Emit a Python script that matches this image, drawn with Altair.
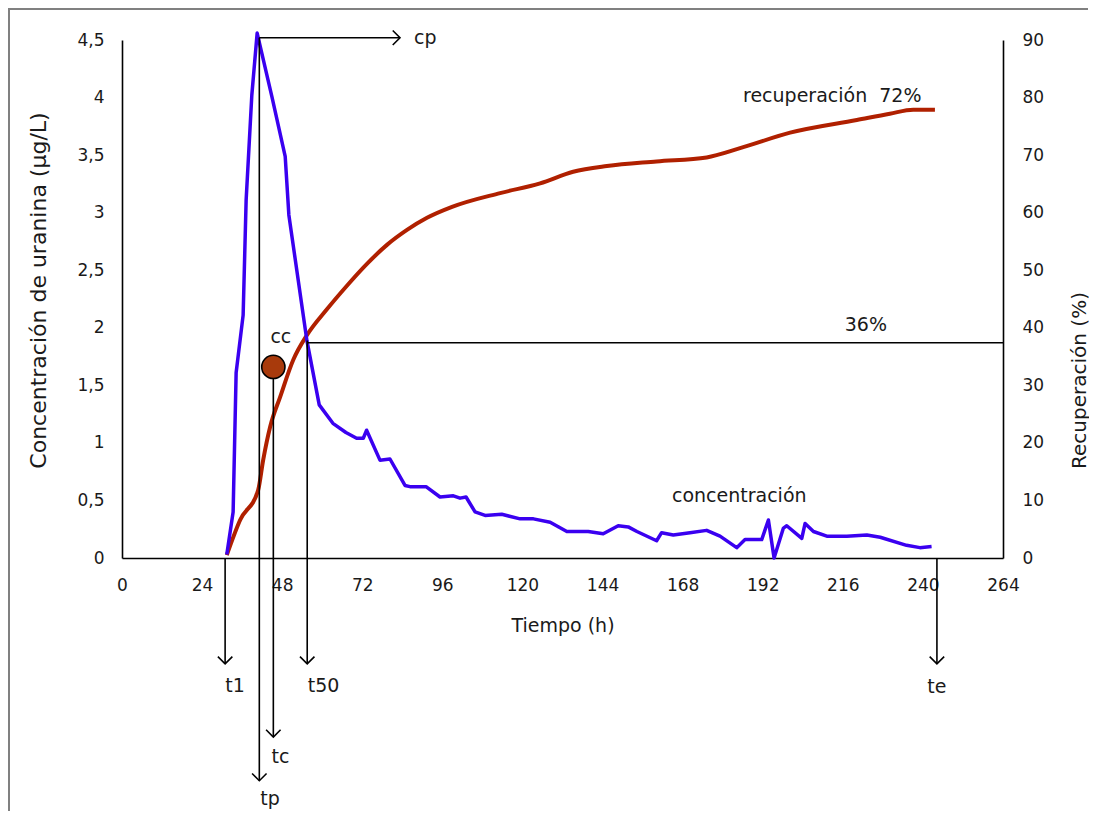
import altair as alt
import pandas as pd

# ---- data ----
conc_t = [31.4, 33.3, 34.2, 36.3, 37.2, 38.9, 40.5, 44.9, 48.9, 50.0, 55.4, 59.1, 63.2, 67.1, 70.3,
          72.3, 73.3, 77.3, 80.3, 84.8, 86.3, 91.1, 95.3, 99.3, 101.3, 103.1, 105.8, 108.8, 113.8,
          119.3, 123.3, 128.3, 133.3, 139.7, 144.2, 148.7, 151.7, 154.3, 160.2, 161.7, 165.2, 170.2,
          175.2, 179.2, 184.2, 186.7, 191.7, 193.7, 195.4, 198.2, 199.2, 203.7, 204.7, 207.2, 211.2,
          217.2, 223.2, 227.2, 235.1, 239.1, 242.6]
conc_v = [0.03, 0.40, 1.61, 2.11, 3.11, 4.02, 4.56, 4.01, 3.49, 2.98, 1.89, 1.33, 1.17, 1.09, 1.04,
          1.04, 1.11, 0.85, 0.86, 0.63, 0.62, 0.62, 0.53, 0.54, 0.52, 0.53, 0.40, 0.37, 0.38,
          0.34, 0.34, 0.31, 0.23, 0.23, 0.21, 0.28, 0.27, 0.23, 0.15, 0.22, 0.20, 0.22,
          0.24, 0.19, 0.09, 0.16, 0.16, 0.33, 0.00, 0.26, 0.28, 0.17, 0.30, 0.23, 0.19,
          0.19, 0.20, 0.18, 0.11, 0.09, 0.10]

rec_t = [31.4, 35.4, 40.8, 42.3, 44.4, 47.4, 51.3, 55.4, 61.4, 67.4, 73.4, 79.4, 85.4, 91.4, 98.9,
         113.3, 125.3, 135.2, 145.3, 160.2, 175.2, 185.2, 200.2, 220.2, 230.1, 237.1, 243.6]
rec_v = [0.5, 6.6, 11.8, 17.0, 22.8, 28.0, 34.4, 38.7, 43.2, 47.3, 51.1, 54.4, 57.0, 59.1, 61.0,
         63.4, 65.1, 67.1, 68.1, 68.9, 69.6, 71.2, 73.9, 76.1, 77.2, 77.9, 77.9]

x_ticks = [0, 24, 48, 72, 96, 120, 144, 168, 192, 216, 240, 264]
yl_ticks = [0, 0.5, 1, 1.5, 2, 2.5, 3, 3.5, 4, 4.5]
yr_ticks = [0, 10, 20, 30, 40, 50, 60, 70, 80, 90]

# annotation markers (time h, concentration units)
vline_name = ["t1", "tp", "tc", "t50", "te"]
vline_x = [30.9, 41.15, 45.35, 55.5, 244.2]
vline_top = [0.0, 4.52, 1.66, 1.89, 0.0]
vline_bot = [-0.92, -1.935, -1.555, -0.92, -0.92]
vlabel_x = [33.9, 44.35, 47.5, 60.4, 244.2]
vlabel_y = [-1.11, -2.09, -1.73, -1.11, -1.12]

cp_x = [41.15, 83.3]
cp_y = 4.52
half_x = [55.5, 264]
half_y = 1.87
cc_x, cc_y = 45.35, 1.66

left_text = ["cp", "recuperación\u00a0\u00a072%", "concentración"]
left_x = [87.5, 186.1, 164.8]
left_y = [4.52, 4.01, 0.54]
center_text = ["36%", "cc"]
center_x = [222.9, 47.6]
center_y = [2.02, 1.92]

FONT = "DejaVu Sans"
TXT = "#1a1a1a"
BLUE = "#3a00f0"
RED = "#b02000"

conc_df = pd.DataFrame({"t": conc_t, "c": conc_v})
rec_df = pd.DataFrame({"t": rec_t, "r": rec_v})
vl_df = pd.DataFrame({"name": vline_name, "x": vline_x, "y": vline_top, "y2": vline_bot,
                      "lx": vlabel_x, "ly": vlabel_y})
cp_df = pd.DataFrame({"x": [cp_x[0]], "x2": [cp_x[1]], "y": [cp_y]})
half_df = pd.DataFrame({"x": [half_x[0]], "x2": [half_x[1]], "y": [half_y]})
arrow_r_df = pd.DataFrame({"x": [cp_x[1]], "y": [cp_y]})
cc_df = pd.DataFrame({"x": [cc_x], "y": [cc_y]})
left_df = pd.DataFrame({"text": left_text, "x": left_x, "y": left_y})
center_df = pd.DataFrame({"text": center_text, "x": center_x, "y": center_y})

xs = alt.Scale(domain=[0, 264], nice=False, zero=False)
ys = alt.Scale(domain=[0, 4.5], nice=False)

x_axis = alt.Axis(values=x_ticks, title="Tiempo (h)", orient="bottom", ticks=False, grid=False,
                  domainColor="black", domainWidth=1.6, labelFont=FONT, labelFontSize=17,
                  labelColor=TXT, labelPadding=19, labelFlush=False, titleFont=FONT,
                  titleFontSize=19, titleFontWeight="normal", titleColor=TXT, titlePadding=23)
yl_axis = alt.Axis(values=yl_ticks, title="Concentración de uranina (µg/L)", orient="left",
                   ticks=False, grid=False, domainColor="black", domainWidth=1.6,
                   labelFont=FONT, labelFontSize=17, labelColor=TXT, labelPadding=18,
                   labelExpr="replace(toString(datum.value), '.', ',')",
                   titleFont=FONT, titleFontSize=22, titleFontWeight="normal", titleColor=TXT,
                   titleAngle=270, titleX=-84, titleY=250, titleAlign="center",
                   titleBaseline="middle")
yr_axis = alt.Axis(values=yr_ticks, title="Recuperación (%)", orient="right", ticks=False,
                   grid=False, domainColor="black", domainWidth=1.6, labelFont=FONT,
                   labelFontSize=17, labelColor=TXT, labelPadding=19, titleFont=FONT,
                   titleFontSize=20, titleFontWeight="normal", titleColor=TXT, titleAngle=270,
                   titleX=76, titleY=340, titleAlign="center", titleBaseline="middle")


def X(field, axis=None):
    return alt.X(field, type="quantitative", scale=xs, axis=axis)


def Y(field):
    return alt.Y(field, type="quantitative", scale=ys, axis=None)


red = alt.Chart(rec_df).mark_line(color=RED, strokeWidth=4, interpolate="monotone").encode(
    x=X("t", x_axis),
    y=alt.Y("r:Q", scale=alt.Scale(domain=[0, 90], nice=False), axis=yr_axis),
)

blue = alt.Chart(conc_df).mark_line(color=BLUE, strokeWidth=3.5, strokeJoin="round").encode(
    x=X("t"),
    y=alt.Y("c:Q", scale=ys, axis=yl_axis),
)

vrules = alt.Chart(vl_df).mark_rule(color="black", strokeWidth=1.6).encode(
    x=X("x"), y=Y("y"), y2="y2:Q")
down_heads = alt.Chart(vl_df).mark_point(
    shape="M -1 -1 L 0 0 L 1 -1", filled=False, color="black", strokeWidth=1.6, size=210, opacity=1
).encode(x=X("x"), y=Y("y2"))
vlabels = alt.Chart(vl_df).mark_text(font=FONT, fontSize=19, color=TXT, align="center",
                                     baseline="middle").encode(
    x=X("lx"), y=Y("ly"), text="name:N")
cp_rule = alt.Chart(cp_df).mark_rule(color="black", strokeWidth=1.6).encode(
    x=X("x"), x2="x2:Q", y=Y("y"))
right_head = alt.Chart(arrow_r_df).mark_point(
    shape="M -1 -1 L 0 0 L -1 1", filled=False, color="black", strokeWidth=1.6, size=210, opacity=1
).encode(x=X("x"), y=Y("y"))
half_rule = alt.Chart(half_df).mark_rule(color="black", strokeWidth=1.6).encode(
    x=X("x"), x2="x2:Q", y=Y("y"))
cc_point = alt.Chart(cc_df).mark_circle(color="#a83a0c", stroke="black", strokeWidth=1.6,
                                        size=540, opacity=1).encode(x=X("x"), y=Y("y"))
notes_left = alt.Chart(left_df).mark_text(font=FONT, fontSize=19, color=TXT, baseline="middle",
                                          align="left").encode(
    x=X("x"), y=Y("y"), text="text:N")
notes_center = alt.Chart(center_df).mark_text(font=FONT, fontSize=19, color=TXT,
                                              baseline="middle", align="center").encode(
    x=X("x"), y=Y("y"), text="text:N")

frame_df = pd.DataFrame({"a": [0]})
frame_left = alt.Chart(frame_df).mark_rule(color="#808080", strokeWidth=2).encode(
    x=alt.value(-113), y=alt.value(-31), y2=alt.value(790))
frame_top = alt.Chart(frame_df).mark_rule(color="#808080", strokeWidth=2).encode(
    x=alt.value(-114), x2=alt.value(966), y=alt.value(-31))

chart = alt.layer(
    red, blue, vrules, down_heads, vlabels, cp_rule, right_head, half_rule, cc_point,
    notes_left, notes_center, frame_left, frame_top,
).resolve_scale(y="independent", x="independent").properties(
    width=881, height=518,
    padding={"left": 114, "top": 32, "right": 86, "bottom": 253},
    autosize=alt.AutoSizeParams(type="none"),
).configure_view(stroke=None)

chart.save("out.html", embed_options={"renderer": "svg", "actions": False})
